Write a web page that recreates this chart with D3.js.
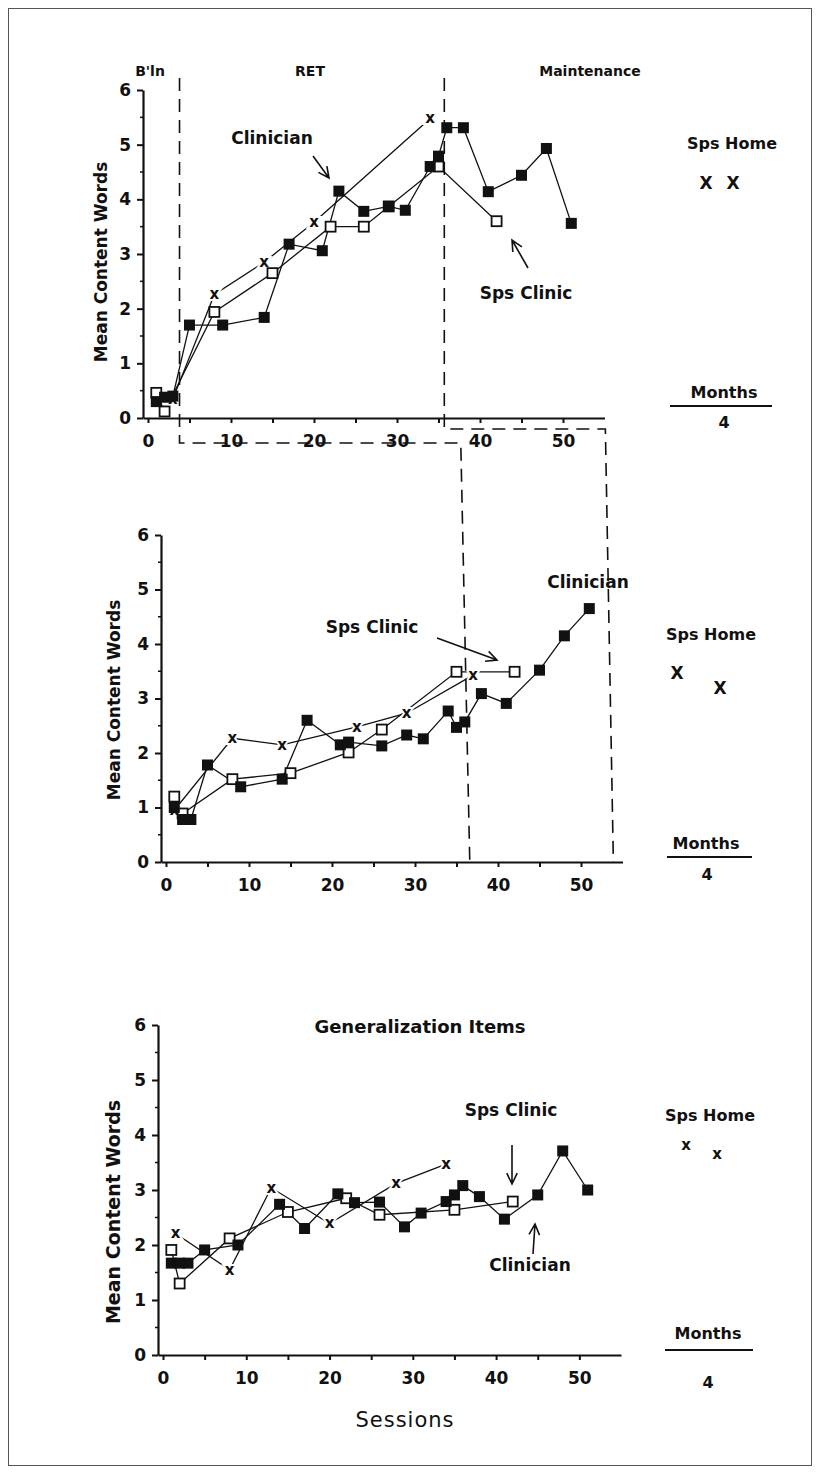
<!DOCTYPE html>
<html><head><meta charset="utf-8">
<script src="https://cdn.jsdelivr.net/npm/d3@7"></script>
<style>
body{margin:0;background:#fff}
svg{display:block}
text{font-family:"DejaVu Sans",Verdana,sans-serif;fill:#111}
</style>
</head><body>
<svg id="c" width="821" height="1475"></svg>
<script>
// ---------------- DATA ----------------
const xTickValues = [0,5,10,15,20,25,30,35,40,45,50];
const xTickLabels = [0,10,20,30,40,50];
const yTickValues = [0,1,2,3,4,5,6];
const phaseLabels = ["B'ln","RET","Maintenance"];
const topPhases = [3.8, 35.7];
const midPhases = [36.6, 53.9];

// [session, mean content words]
const topClinician = [[1,0.3],[2,0.38],[3,0.4],[5,1.7],[9,1.7],[14,1.84],[17,3.18],[21,3.06],[23,4.15],[26,3.78],[29,3.87],[31,3.8],[34,4.6],[35,4.79],[36,5.31],[38,5.31],[41,4.14],[45,4.44],[48,4.93],[51,3.56]];
const topSpsClinic = [[1,0.46],[2,0.12],[8,1.94],[15,2.65],[22,3.5],[26,3.5],[29,3.87],[35,4.6],[42,3.6]];
const topSpsHome = [[3,0.35],[8,2.26],[14,2.85],[20,3.58],[34,5.48]];
const topHomeFollowUp = [4.3,4.3];

const midClinician = [[1,1.0],[2,0.78],[3,0.78],[5,1.78],[9,1.38],[14,1.52],[17,2.6],[21,2.15],[22,2.2],[26,2.13],[29,2.33],[31,2.26],[34,2.77],[35,2.47],[36,2.57],[38,3.09],[41,2.91],[45,3.52],[48,4.15],[51,4.65]];
const midSpsClinic = [[1,1.2],[2,0.89],[8,1.52],[15,1.63],[22,2.01],[26,2.43],[35,3.49],[42,3.49]];
const midSpsHome = [[1,0.95],[8,2.27],[14,2.15],[23,2.48],[29,2.73],[37,3.43]];
const midHomeFollowUp = [3.47,3.19];

const botClinician = [[1,1.67],[2,1.67],[3,1.67],[5,1.91],[9,2.0],[14,2.74],[17,2.3],[21,2.93],[23,2.77],[26,2.78],[29,2.33],[31,2.58],[34,2.79],[35,2.91],[36,3.08],[38,2.88],[41,2.47],[45,2.91],[48,3.71],[51,3.0]];
const botSpsClinic = [[1,1.91],[2,1.3],[8,2.12],[15,2.6],[22,2.85],[26,2.55],[35,2.64],[42,2.79]];
const botSpsHome = [[1.5,2.21],[8,1.55],[13,3.04],[20,2.39],[28,3.12],[34,3.47]];
const botHomeFollowUp = [3.82,3.67];

const followUpLabel = "4";

// ---------------- LAYOUT ----------------
const svg = d3.select("#c");
svg.append("rect").attr("x",8.5).attr("y",8.5).attr("width",803).attr("height",1457)
  .attr("fill","none").attr("stroke","#555").attr("stroke-width",1);

const panels = [
  {name:"top", xr:[143,604.5], yr:[418,90], clin:topClinician, sps:topSpsClinic, home:topSpsHome, fu:topHomeFollowUp,
   fuX:[706,733], fuGlyph:"X", fuSize:17, homeLabel:[732,143], months:[724,392], monthsLine:[670,772,406], four:[724,422],
   ylab:[107,262], ylabSize:17},
  {name:"mid", xr:[161,622.5], yr:[862,535], clin:midClinician, sps:midSpsClinic, home:midSpsHome, fu:midHomeFollowUp,
   fuX:[677,720], fuGlyph:"X", fuSize:17, homeLabel:[711,634], months:[706,843], monthsLine:[667,752,857], four:[707,874],
   ylab:[120,700], ylabSize:17},
  {name:"bot", xr:[158,621], yr:[1355,1025], clin:botClinician, sps:botSpsClinic, home:botSpsHome, fu:botHomeFollowUp,
   fuX:[686,717], fuGlyph:"x", fuSize:15, homeLabel:[710,1115], months:[708,1333], monthsLine:[665,753,1350], four:[708,1382],
   ylab:[120,1212], ylabSize:19}
];

const scales = {};
panels.forEach(p => {
  const x = d3.scaleLinear().domain([-0.6,55]).range(p.xr);
  const y = d3.scaleLinear().domain([0,6]).range(p.yr);
  scales[p.name] = {x,y};
  const g = svg.append("g");

  // y axis
  const ya = g.append("g").attr("transform",`translate(${p.xr[0]},0)`)
    .call(d3.axisLeft(y).tickValues(yTickValues).tickSize(6).tickSizeOuter(0).tickPadding(6).tickFormat(d3.format("d")));
  ya.select(".domain").attr("stroke","#111").attr("stroke-width",2.2);
  ya.selectAll(".tick line").attr("stroke","#111").attr("stroke-width",2);
  ya.selectAll(".tick text").attr("font-size",17).attr("font-weight","bold").attr("fill","#111");
  // minor y ticks
  g.selectAll(".ym").data(d3.range(0.5,6,1)).enter().append("line")
    .attr("x1",p.xr[0]-3).attr("x2",p.xr[0]).attr("y1",d=>y(d)).attr("y2",d=>y(d))
    .attr("stroke","#111").attr("stroke-width",1.5);

  // x axis
  const xa = g.append("g").attr("transform",`translate(0,${p.yr[0]})`)
    .call(d3.axisBottom(x).tickValues(xTickValues).tickSize(5).tickSizeOuter(0).tickPadding(12)
      .tickFormat(d => xTickLabels.includes(d) ? d : ""));
  xa.select(".domain").attr("stroke","#111").attr("stroke-width",2.2);
  xa.selectAll(".tick line").attr("stroke","#111").attr("stroke-width",2);
  xa.selectAll(".tick text").attr("font-size",17).attr("font-weight","bold").attr("fill","#111");

  // y title
  g.append("text").attr("transform",`translate(${p.ylab[0]},${p.ylab[1]}) rotate(-90)`)
    .attr("text-anchor","middle").attr("font-size",p.ylabSize).attr("font-weight","bold")
    .text("Mean Content Words");

  const line = d3.line().x(d=>x(d[0])).y(d=>y(d[1]));
  g.append("path").datum(p.home).attr("d",line).attr("fill","none").attr("stroke","#111").attr("stroke-width",1.3);
  g.append("path").datum(p.sps).attr("d",line).attr("fill","none").attr("stroke","#111").attr("stroke-width",1.3);
  g.append("path").datum(p.clin).attr("d",line).attr("fill","none").attr("stroke","#111").attr("stroke-width",1.3);

  g.selectAll(".hx").data(p.home).enter().append("text")
    .attr("x",d=>x(d[0])).attr("y",d=>y(d[1])).attr("dy","0.32em")
    .attr("text-anchor","middle").attr("font-size",15).attr("font-weight","bold")
    .attr("stroke","#fff").attr("stroke-width",4).attr("paint-order","stroke")
    .text("x");
  g.selectAll(".o").data(p.sps).enter().append("rect")
    .attr("x",d=>x(d[0])-5).attr("y",d=>y(d[1])-5).attr("width",10).attr("height",10)
    .attr("fill","#fff").attr("stroke","#111").attr("stroke-width",1.8);
  g.selectAll(".f").data(p.clin).enter().append("rect")
    .attr("x",d=>x(d[0])-5.5).attr("y",d=>y(d[1])-5.5).attr("width",11).attr("height",11)
    .attr("fill","#111");

  // Sps Home follow-up column
  g.append("text").attr("x",p.homeLabel[0]).attr("y",p.homeLabel[1]).attr("dy","0.35em")
    .attr("text-anchor","middle").attr("font-size",16).attr("font-weight","bold").text("Sps Home");
  g.selectAll(".fu").data(p.fu).enter().append("text")
    .attr("x",(d,i)=>p.fuX[i]).attr("y",d=>y(d)).attr("dy","0.36em")
    .attr("text-anchor","middle").attr("font-size",p.fuSize).attr("font-weight","bold").text(p.fuGlyph);
  g.append("text").attr("x",p.months[0]).attr("y",p.months[1]).attr("dy","0.35em")
    .attr("text-anchor","middle").attr("font-size",16).attr("font-weight","bold").text("Months");
  g.append("line").attr("x1",p.monthsLine[0]).attr("x2",p.monthsLine[1])
    .attr("y1",p.monthsLine[2]).attr("y2",p.monthsLine[2]).attr("stroke","#111").attr("stroke-width",1.8);
  g.append("text").attr("x",p.four[0]).attr("y",p.four[1]).attr("dy","0.35em")
    .attr("text-anchor","middle").attr("font-size",16).attr("font-weight","bold").text(followUpLabel);
});

// phase change dashed staircases
const T = scales.top, M = scales.mid;
const dash = "13,8";
const stair = (pts) => svg.append("path").attr("d", d3.line()(pts)).attr("fill","none")
  .attr("stroke","#111").attr("stroke-width",1.6).attr("stroke-dasharray",dash);
stair([[T.x(topPhases[0]),78],[T.x(topPhases[0]),443],[M.x(midPhases[0])-9,443],[M.x(midPhases[0]),862]]);
stair([[T.x(topPhases[1]),78],[T.x(topPhases[1]),429],[M.x(midPhases[1])-8,429],[M.x(midPhases[1]),862]]);

// phase labels
const phaseX = [150, 310, 590];
phaseLabels.forEach((t,i)=>{
  svg.append("text").attr("x",phaseX[i]).attr("y",71).attr("dy","0.35em")
    .attr("text-anchor","middle").attr("font-size",14).attr("font-weight","bold").text(t);
});

// annotations
function label(x,y,t,size){
  svg.append("text").attr("x",x).attr("y",y).attr("dy","0.35em").attr("text-anchor","middle")
    .attr("font-size",size||17).attr("font-weight","bold").text(t);
}
function arrow(x1,y1,x2,y2){
  const a = Math.atan2(y2-y1,x2-x1), L=12, s=0.45;
  const p = d3.path();
  p.moveTo(x1,y1); p.lineTo(x2,y2);
  p.moveTo(x2-L*Math.cos(a-s), y2-L*Math.sin(a-s)); p.lineTo(x2,y2);
  p.lineTo(x2-L*Math.cos(a+s), y2-L*Math.sin(a+s));
  svg.append("path").attr("d",p.toString()).attr("fill","none").attr("stroke","#111").attr("stroke-width",1.6);
}
label(272,138,"Clinician"); arrow(313,156,329,178);
label(526,293,"Sps Clinic"); arrow(528,268,512,240);
label(588,582,"Clinician");
label(372,627,"Sps Clinic"); arrow(437,638,497,660);
label(420,1027,"Generalization Items",18);
label(511,1110,"Sps Clinic"); arrow(512,1145,512,1184);
label(530,1265,"Clinician"); arrow(533,1254,535,1224);

svg.append("text").attr("x",405).attr("y",1420).attr("dy","0.35em").attr("text-anchor","middle")
  .attr("font-size",21).attr("letter-spacing",1).text("Sessions");
</script>
</body></html>
